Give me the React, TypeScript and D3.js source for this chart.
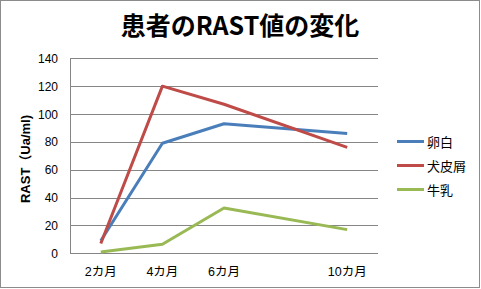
import React from "react";
import * as d3 from "d3";

const months = [2, 4, 6, 10];
const monthLabels = ["2カ月", "4カ月", "6カ月", "10カ月"];
const seriesNames = ["卵白", "犬皮屑", "牛乳"];
const eggWhite = [9, 79, 93, 86];
const dogDander = [7, 120, 107, 76];
const milk = [1, 6.5, 32.5, 17];
const yTicks = [0, 20, 40, 60, 80, 100, 120, 140];
const colors = ["#4a7ebb", "#be4b48", "#98b954"];

const W = 481;
const H = 289;
const FONT = "'Liberation Sans', 'Noto Sans CJK JP', sans-serif";
const TFONT = "'Noto Sans CJK JP', 'Noto Sans', sans-serif";

export default function App() {
  const left = 70, right = 378, top = 58.3, bottom = 253.3;
  const x = d3.scaleLinear().domain([1, 11]).range([left, right]);
  const y = d3.scaleLinear().domain([0, 140]).range([bottom, top]);
  const data = [eggWhite, dogDander, milk];
  const line = d3
    .line<number>()
    .x((_, i) => x(months[i]))
    .y((d) => y(d));

  return (
    <svg width={W} height={H} style={{ position: "absolute", left: 0, top: 0 }}>
      <rect x={0.5} y={0.5} width={W - 2} height={H - 2} fill="#fff" stroke="#8c8c8c" />
      <text
        x={240}
        y={35}
        textAnchor="middle"
        fontFamily={TFONT}
        fontWeight="bold"
        fontSize={25}
        fill="#000"
      >
        患者のRAST値の変化
      </text>
      {yTicks.map((t) => (
        <g key={t}>
          <line
            x1={left}
            x2={right}
            y1={Math.round(y(t)) + 0.5}
            y2={Math.round(y(t)) + 0.5}
            stroke="#868686"
            strokeWidth={1}
          />
          <text
            x={58}
            y={y(t) + 4.5}
            textAnchor="end"
            fontFamily={FONT}
            fontSize={12}
            fill="#000"
          >
            {t}
          </text>
        </g>
      ))}
      <line x1={left + 0.5} x2={left + 0.5} y1={top} y2={bottom} stroke="#868686" />
      {months.map((m, i) => (
        <text
          key={m}
          x={x(m)}
          y={276}
          textAnchor="middle"
          fontFamily={FONT}
          fontSize={12.5}
          fill="#000"
        >
          {monthLabels[i]}
        </text>
      ))}
      <text
        transform={`translate(30,159) rotate(-90)`}
        textAnchor="middle"
        fontFamily={FONT}
        fontWeight="bold"
        fontSize={13}
        fill="#000"
      >
        RAST（Ua/ml)
      </text>
      {data.map((s, i) => (
        <path
          key={i}
          d={line(s) || ""}
          fill="none"
          stroke={colors[i]}
          strokeWidth={3}
          strokeLinejoin="round"
        />
      ))}
      {seriesNames.map((n, i) => (
        <g key={n}>
          <line
            x1={397}
            x2={424}
            y1={141.5 + i * 24}
            y2={141.5 + i * 24}
            stroke={colors[i]}
            strokeWidth={3}
          />
          <text
            x={427}
            y={141.5 + i * 24 + 5}
            fontFamily={FONT}
            fontSize={13}
            fill="#000"
          >
            {n}
          </text>
        </g>
      ))}
    </svg>
  );
}
